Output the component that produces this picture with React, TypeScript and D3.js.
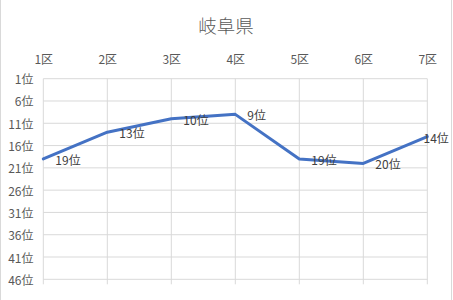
import React from "react";
import * as d3 from "d3";

const categories = ["1区", "2区", "3区", "4区", "5区", "6区", "7区"];
const ranks = [19, 13, 10, 9, 19, 20, 14];
const yTicks = [1, 6, 11, 16, 21, 26, 31, 36, 41, 46];
const title = "岐阜県";

const W = 453;
const H = 300;
const FONT = "'Noto Sans CJK JP', 'Noto Sans', sans-serif";

export default function App() {
  const x = d3
    .scalePoint<string>()
    .domain(categories)
    .range([43.3, 427.3]);
  const y = d3.scaleLinear().domain([1, 46]).range([78.7, 279.3]);
  const line = d3
    .line<number>()
    .x((_, i) => x(categories[i]) as number)
    .y((d) => y(d));
  const grid = "#d9d9d9";
  const x0 = x(categories[0]) as number;
  const x1 = x(categories[categories.length - 1]) as number;
  return (
    <div style={{ position: "fixed", left: 0, top: 0 }}>
      <svg width={W} height={H} style={{ display: "block", background: "#fff" }}>
        <rect x={0.5} y={-2} width={451} height={H + 4} fill="#fff" stroke={grid} />
        <text
          x={226}
          y={24.5}
          textAnchor="middle"
          dominantBaseline="central"
          fontFamily={FONT}
          fontSize={18.5}
          fontWeight={300}
          fill="#595959"
        >
          {title}
        </text>
        {yTicks.map((t) => (
          <g key={t}>
            <line x1={x0} x2={x1} y1={y(t)} y2={y(t)} stroke={grid} strokeWidth={1} />
            <text
              x={33.5}
              y={y(t)}
              textAnchor="end"
              dominantBaseline="central"
              fontFamily={FONT}
              fontSize={12}
              fill="#595959"
            >
              {t}位
            </text>
          </g>
        ))}
        {categories.map((c) => (
          <g key={c}>
            <line
              x1={x(c)}
              x2={x(c)}
              y1={y(1)}
              y2={y(46) + 5}
              stroke={grid}
              strokeWidth={1}
            />
            <text
              x={(x(c) as number) + 0.5}
              y={58}
              textAnchor="middle"
              dominantBaseline="central"
              fontFamily={FONT}
              fontSize={12}
              fill="#595959"
            >
              {c}
            </text>
          </g>
        ))}
        <path
          d={line(ranks) || ""}
          fill="none"
          stroke="#4472C4"
          strokeWidth={3}
          strokeLinejoin="round"
          strokeLinecap="round"
        />
        {ranks.map((r, i) => {
          const px = x(categories[i]) as number;
          const lx = Math.min(px + 12, 423.5);
          return (
            <text
              key={i}
              x={lx}
              y={y(r) + 0.5}
              dominantBaseline="central"
              fontFamily={FONT}
              fontSize={12}
              fill="#404040"
            >
              {r}位
            </text>
          );
        })}
      </svg>
    </div>
  );
}
